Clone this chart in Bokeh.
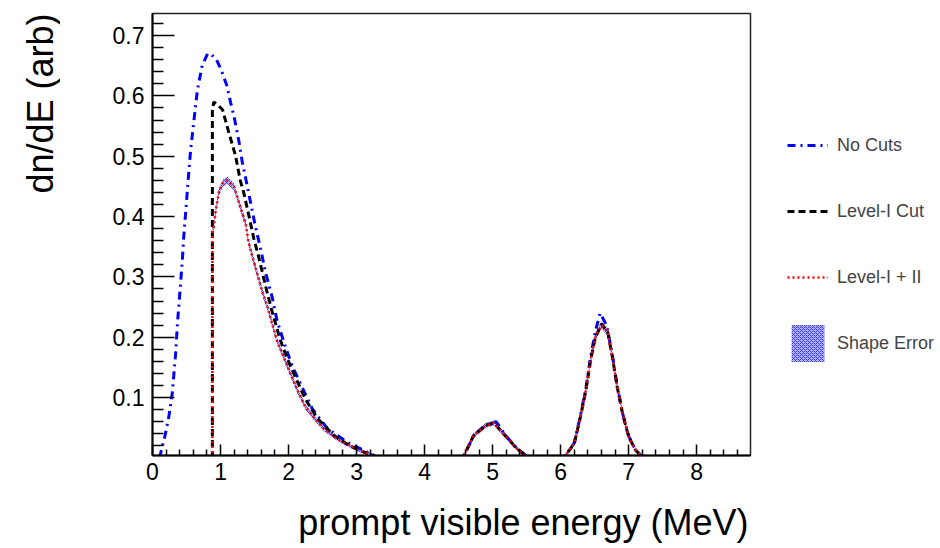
import math
from bokeh.plotting import figure
from bokeh.layouts import row, column
from bokeh.models import Range1d, FixedTicker, PrintfTickFormatter, Legend, LegendItem, Label
from bokeh.embed import file_html
from bokeh.resources import INLINE

FONT = "Liberation Sans"

# ---- data ----
no_cuts_E = [0.10, 0.12, 0.18, 0.24, 0.29, 0.34, 0.37, 0.40, 0.44, 0.46, 0.49, 0.52, 0.56, 0.60,
             0.66, 0.73, 0.81, 0.87, 0.94, 1.01, 1.09, 1.15, 1.20, 1.27, 1.32, 1.37, 1.44, 1.51,
             1.59, 1.66, 1.76, 1.83, 1.93, 2.05, 2.20, 2.35, 2.57, 2.86, 3.10, 3.25, 3.30,
             4.50, 4.58, 4.72, 4.90, 5.05, 5.20, 5.36, 5.49, 5.60,
             6.00, 6.07, 6.20, 6.29, 6.37, 6.44, 6.51, 6.58, 6.65, 6.69, 6.76, 6.83, 6.91, 7.00,
             7.10, 7.18, 7.30, 8.79]
no_cuts_v = [0.000, 0.008, 0.035, 0.068, 0.107, 0.173, 0.228, 0.270, 0.330, 0.368, 0.410, 0.455,
             0.510, 0.550, 0.610, 0.650, 0.670, 0.668, 0.660, 0.643, 0.618, 0.588, 0.565, 0.525,
             0.490, 0.463, 0.424, 0.385, 0.346, 0.308, 0.266, 0.228, 0.192, 0.153, 0.117, 0.081,
             0.049, 0.026, 0.013, 0.004, 0.000,
             0.000, 0.004, 0.037, 0.055, 0.060, 0.036, 0.015, 0.004, 0.000,
             0.000, 0.004, 0.025, 0.070, 0.115, 0.168, 0.210, 0.240, 0.225, 0.212, 0.170, 0.120,
             0.074, 0.036, 0.013, 0.004, 0.000, 0.000]

level1_E = [0.88, 0.88, 0.90, 0.96, 1.03, 1.12, 1.22, 1.29, 1.34, 1.42, 1.49, 1.55, 1.59, 1.66,
            1.74, 1.81, 1.88, 1.98, 2.10, 2.25, 2.42, 2.67, 2.90, 3.10, 3.25, 3.30,
            4.50, 4.58, 4.72, 4.90, 5.02, 5.20, 5.36, 5.49, 5.60,
            6.00, 6.07, 6.20, 6.29, 6.37, 6.44, 6.51, 6.60, 6.69, 6.76, 6.83, 6.91, 7.00, 7.10,
            7.18, 7.30, 8.79]
level1_v = [0.000, 0.575, 0.590, 0.585, 0.577, 0.540, 0.501, 0.460, 0.440, 0.400, 0.363, 0.338,
            0.319, 0.286, 0.250, 0.222, 0.195, 0.165, 0.134, 0.097, 0.066, 0.037, 0.020, 0.010,
            0.004, 0.000,
            0.000, 0.004, 0.037, 0.054, 0.058, 0.035, 0.015, 0.004, 0.000,
            0.000, 0.004, 0.024, 0.068, 0.112, 0.162, 0.200, 0.222, 0.209, 0.167, 0.118, 0.073,
            0.035, 0.013, 0.004, 0.000, 0.000]

level12_E = [0.88, 0.88, 0.90, 0.93, 0.975, 1.03, 1.10, 1.20, 1.29, 1.37, 1.41, 1.47, 1.54, 1.61,
             1.69, 1.76, 1.83, 1.93, 2.03, 2.13, 2.25, 2.40, 2.52, 2.76, 3.01, 3.25, 3.30,
             4.50, 4.58, 4.72, 4.90, 5.02, 5.20, 5.36, 5.49, 5.60,
             6.00, 6.07, 6.20, 6.29, 6.37, 6.44, 6.51, 6.60, 6.69, 6.76, 6.83, 6.91, 7.00, 7.10,
             7.18, 7.30, 8.79]
level12_v = [0.000, 0.375, 0.383, 0.410, 0.440, 0.455, 0.460, 0.449, 0.416, 0.388, 0.358, 0.333,
             0.305, 0.277, 0.250, 0.222, 0.194, 0.167, 0.139, 0.112, 0.084, 0.063, 0.048, 0.028,
             0.014, 0.004, 0.000,
             0.000, 0.004, 0.037, 0.054, 0.058, 0.035, 0.015, 0.004, 0.000,
             0.000, 0.004, 0.024, 0.068, 0.112, 0.162, 0.200, 0.220, 0.209, 0.167, 0.118, 0.073,
             0.035, 0.013, 0.004, 0.000, 0.000]
shape_err = [0.000, 0.006, 0.006, 0.006, 0.006, 0.006, 0.006, 0.006, 0.006, 0.006, 0.006, 0.006,
             0.006, 0.006, 0.006, 0.005, 0.005, 0.005, 0.005, 0.005, 0.004, 0.004, 0.004, 0.003,
             0.003, 0.003, 0.000,
             0.000, 0.003, 0.004, 0.004, 0.004, 0.004, 0.003, 0.003, 0.000,
             0.000, 0.003, 0.004, 0.005, 0.005, 0.006, 0.006, 0.006, 0.006, 0.006, 0.005, 0.005,
             0.004, 0.003, 0.003, 0.000, 0.000]

x_ticks = [0, 1, 2, 3, 4, 5, 6, 7, 8]
x_minor = [0.2, 0.4, 0.6, 0.8, 1.2, 1.4, 1.6, 1.8, 2.2, 2.4, 2.6, 2.8, 3.2, 3.4, 3.6, 3.8,
           4.2, 4.4, 4.6, 4.8, 5.2, 5.4, 5.6, 5.8, 6.2, 6.4, 6.6, 6.8, 7.2, 7.4, 7.6, 7.8,
           8.2, 8.4, 8.6]
y_ticks = [0.1, 0.2, 0.3, 0.4, 0.5, 0.6, 0.7]
y_minor = [0.02, 0.04, 0.06, 0.08, 0.12, 0.14, 0.16, 0.18, 0.22, 0.24, 0.26, 0.28,
           0.32, 0.34, 0.36, 0.38, 0.42, 0.44, 0.46, 0.48, 0.52, 0.54, 0.56, 0.58,
           0.62, 0.64, 0.66, 0.68, 0.72]

x_title = "prompt visible energy (MeV)"
y_title = "dn/dE (arb)"
labels = ["No Cuts", "Level-I Cut", "Level-I + II", "Shape Error"]

STY_BLUE = dict(line_color="#0000ff", line_width=3, line_dash="8 5 2 5")
STY_BLACK = dict(line_color="black", line_width=3, line_dash="7 4")
STY_RED = dict(line_color="#ff0000", line_width=2.5, line_dash="2 3")
STY_BAND = dict(fill_color="#b4b4f8", fill_alpha=1.0, hatch_pattern="diagonal_cross",
                hatch_color="#3a3aee", hatch_scale=4, hatch_weight=1)


def blank(w, h, left=0, right=0):
    f = figure(width=w, height=h, output_backend="svg", toolbar_location=None,
               x_axis_location=None, y_axis_location=None,
               x_range=Range1d(0, 1), y_range=Range1d(0, 1),
               min_border=0, min_border_left=left, min_border_right=right,
               min_border_top=0, min_border_bottom=0)
    f.grid.visible = False
    f.outline_line_color = None
    f.background_fill_color = "white"
    f.border_fill_color = "white"
    return f


# ---- main plot: frame at x 152..750, y 13..455 of the page ----
p = figure(width=700, height=500, output_backend="svg", toolbar_location=None,
           x_range=Range1d(0, 8.79), y_range=Range1d(0.004, 0.7365),
           min_border_left=92, min_border_right=10, min_border_top=13, min_border_bottom=45)
p.grid.visible = False
p.background_fill_color = "white"
p.border_fill_color = "white"
p.outline_line_color = "#222222"
p.outline_line_width = 1.5

for ax in (p.xaxis[0], p.yaxis[0]):
    ax.axis_line_color = "black"
    ax.axis_line_width = 2
    ax.major_tick_line_color = "black"
    ax.minor_tick_line_color = "black"
    ax.major_tick_line_width = 1.5
    ax.minor_tick_line_width = 1.5
    ax.major_tick_out = 0
    ax.minor_tick_out = 0
    ax.major_label_text_font = FONT
    ax.major_label_text_font_size = "23px"
    ax.major_label_text_color = "black"

p.xaxis.ticker = FixedTicker(ticks=x_ticks, minor_ticks=x_minor)
p.xaxis.formatter = PrintfTickFormatter(format="%d")
p.xaxis.major_tick_in = 11
p.xaxis.minor_tick_in = 6
p.xaxis.major_label_standoff = 7

p.yaxis.ticker = FixedTicker(ticks=y_ticks, minor_ticks=y_minor)
p.yaxis.formatter = PrintfTickFormatter(format="%.1f")
p.yaxis.major_tick_in = 22
p.yaxis.minor_tick_in = 11
p.yaxis.major_label_standoff = 8

lo = [v - e for v, e in zip(level12_v, shape_err)]
hi = [v + e for v, e in zip(level12_v, shape_err)]
p.varea(x=level12_E, y1=lo, y2=hi, **STY_BAND)
p.line(no_cuts_E, no_cuts_v, **STY_BLUE)
p.line(level1_E, level1_v, **STY_BLACK)
p.line(level12_E, level12_v, **STY_RED)

# ---- y-axis title strip (page x 0..60) ----
pl = blank(60, 548)
pl.add_layout(Label(x=40, y=535, x_units="screen", y_units="screen", text=y_title,
                    angle=math.pi / 2, text_align="right", text_baseline="alphabetic",
                    text_font=FONT, text_font_size="36px", text_color="black"))

# ---- x-axis title strip (page x 60..760, y 500..548) ----
pb = blank(700, 48, left=92, right=0)
pb.add_layout(Label(x=596, y=26, x_units="screen", y_units="screen", text=x_title,
                    text_align="right", text_baseline="alphabetic",
                    text_font=FONT, text_font_size="36px", text_color="black"))

# ---- legend strip (page x 760..940) ----
pr = blank(180, 548)
g_blue = pr.line([2, 3], [2, 3], **STY_BLUE)
g_black = pr.line([2, 3], [2, 3], **STY_BLACK)
g_red = pr.line([2, 3], [2, 3], **STY_RED)
g_band = pr.varea(x=[2, 3], y1=[2, 2], y2=[3, 3], **STY_BAND)
legend = Legend(items=[LegendItem(label=labels[0], renderers=[g_blue]),
                       LegendItem(label=labels[1], renderers=[g_black]),
                       LegendItem(label=labels[2], renderers=[g_red]),
                       LegendItem(label=labels[3], renderers=[g_band])],
                location=(27, 182), padding=0, margin=0, spacing=20,
                glyph_width=41, glyph_height=46, label_standoff=9,
                label_text_font=FONT, label_text_font_size="18px",
                border_line_color=None, background_fill_alpha=0)
pr.add_layout(legend)

layout = row(pl, column(p, pb), pr)
open("out.html", "w").write(file_html(layout, INLINE))
